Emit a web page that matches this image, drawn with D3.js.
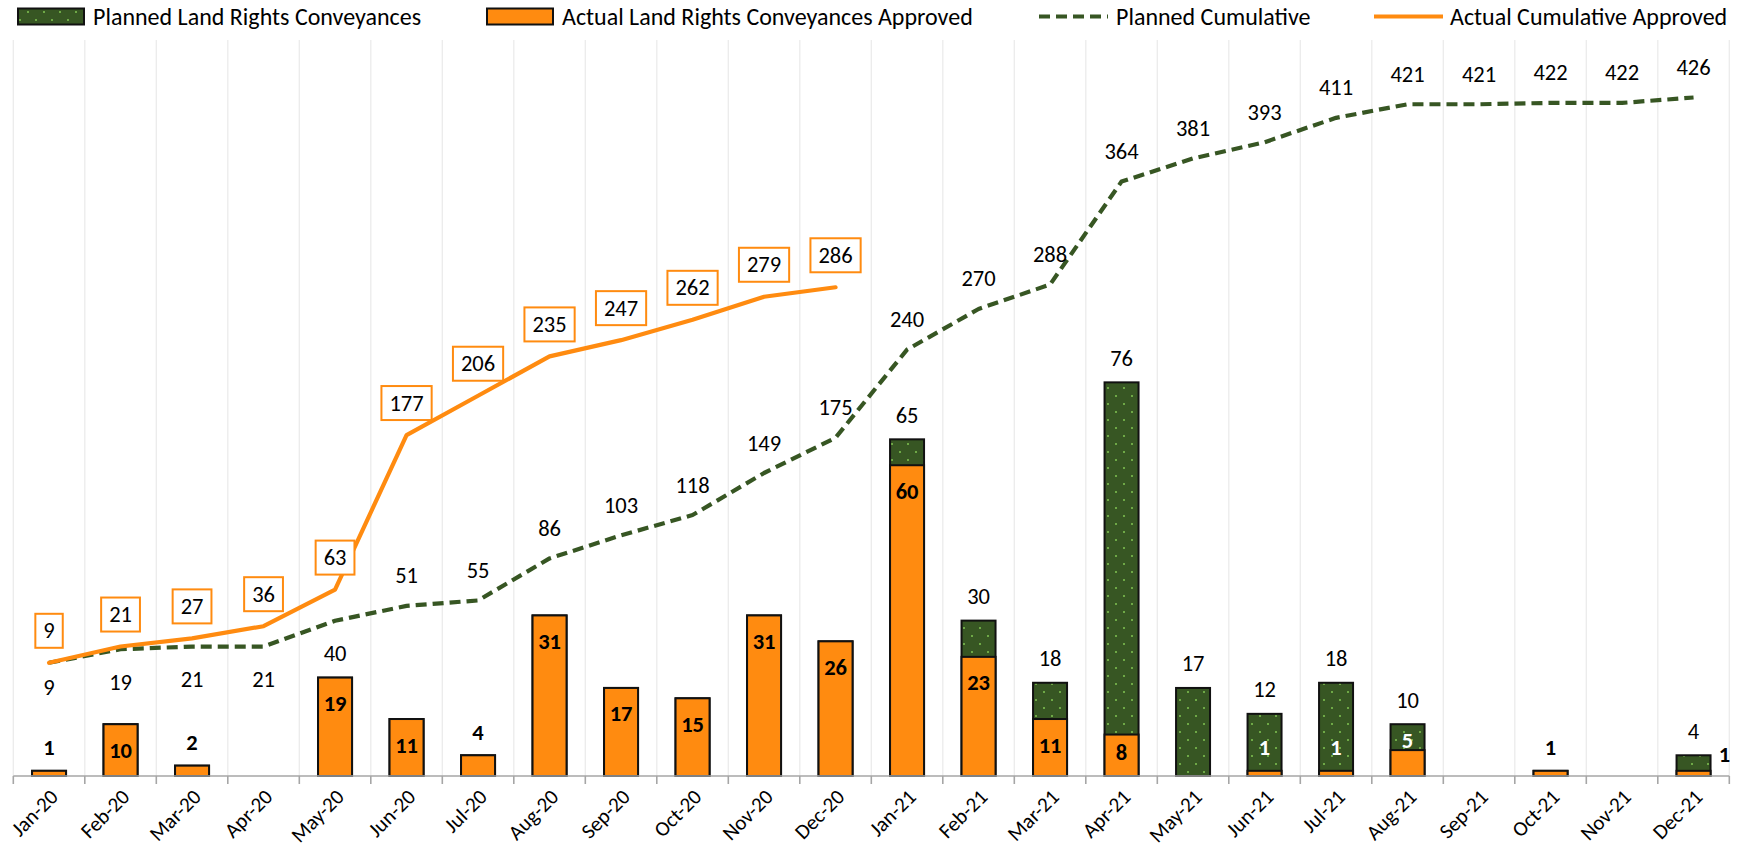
<!DOCTYPE html>
<html>
<head>
<meta charset="utf-8">
<script src="https://cdn.jsdelivr.net/npm/d3@7"></script>
<style>
  html, body { margin: 0; padding: 0; background: #ffffff; }
  svg { display: block; font-family: Carlito, Lato, "Open Sans", sans-serif; }
</style>
</head>
<body>
<svg id="chart" width="1738" height="851"></svg>
<script>
// ---------------- DATA ----------------
const categories = ["Jan-20","Feb-20","Mar-20","Apr-20","May-20","Jun-20","Jul-20","Aug-20","Sep-20","Oct-20","Nov-20","Dec-20",
                    "Jan-21","Feb-21","Mar-21","Apr-21","May-21","Jun-21","Jul-21","Aug-21","Sep-21","Oct-21","Nov-21","Dec-21"];
const plannedMonthly = [1,10,2,0,19,11,4,31,17,15,31,26, 65,30,18,76,17,12,18,10,0,1,0,4];
const actualMonthly  = [1,10,2,0,19,11,4,31,17,15,31,26, 60,23,11,8,0,1,1,5,0,1,0,1];
const plannedCumulative = [9,19,21,21,40,51,55,86,103,118,149,175, 240,270,288,364,381,393,411,421,421,422,422,426];
const actualCumulative  = [9,21,27,36,63,177,206,235,247,262,279,286];
// which planned-bar labels are shown (2021 months where plan exceeds actual)
const plannedLabelShown = [0,0,0,0,0,0,0,0,0,0,0,0, 1,1,1,1,1,1,1,1,0,0,0,1];
const legendLabels = ["Planned Land Rights Conveyances","Actual Land Rights Conveyances Approved","Planned Cumulative","Actual Cumulative Approved"];

// ---------------- LABEL PLACEMENT (style) ----------------
// actual bar label offset from bar top (label centre), null = no label
const actualLabelDy = [-23,26,-23,null,26,26,-23,26,26,26,26,26, 26,26,26,18,null,-23,-23,-10,null,-23,null,-16];
const actualLabelDx = [0,0,0,0,0,0,0,0,0,0,0,0, 0,0,0,0,0,0,0,0,0,0,0,31];
// planned cumulative label offset from line point
const plannedCumLabelDy = [25,33,33,33,33,-30,-30,-30,-30,-30,-30,-30, -30,-30,-30,-30,-30,-30,-30,-30,-30,-30,-30,-30];

// ---------------- STYLE ----------------
const GREEN = "#375623", DOT = "#6EA846", ORANGE = "#FF8B10";
const plot = { left: 13.3, right: 1729.3, top: 40, bottom: 776 };
const FS = 22.5;

const svg = d3.select("#chart");
const defs = svg.append("defs");
const pat = defs.append("pattern").attr("id","dots").attr("patternUnits","userSpaceOnUse")
  .attr("width",16).attr("height",16);
pat.append("rect").attr("width",16).attr("height",16).attr("fill",GREEN);
pat.append("rect").attr("x",3).attr("y",3).attr("width",2).attr("height",2).attr("fill",DOT);
pat.append("rect").attr("x",11).attr("y",11).attr("width",2).attr("height",2).attr("fill",DOT);

const x = d3.scaleBand().domain(categories).range([plot.left, plot.right]).paddingInner(0).paddingOuter(0);
const bw = x.bandwidth();
const cx = c => x(c) + bw / 2;
const yBar = d3.scaleLinear().domain([0, 142.1]).range([plot.bottom, plot.top]);
const yLine = d3.scaleLinear().domain([-74.5, 468.4]).range([plot.bottom, plot.top]);
const barW = 34;

// gridlines (vertical, category boundaries)
const bounds = categories.map(c => x(c)).concat([x.range()[1]]);
svg.append("g").selectAll("line").data(bounds).join("line")
  .attr("x1", d => d).attr("x2", d => d)
  .attr("y1", plot.top).attr("y2", plot.bottom)
  .attr("stroke", "#EBEBEB").attr("stroke-width", 1.3);

// bars
const bars = svg.append("g");
bars.selectAll("rect.planned").data(categories.map((c,i)=>({c, v: plannedMonthly[i]})).filter(d=>d.v>0))
  .join("rect").attr("class","planned")
  .attr("x", d => cx(d.c) - barW/2).attr("width", barW)
  .attr("y", d => yBar(d.v)).attr("height", d => yBar(0) - yBar(d.v))
  .attr("fill", "url(#dots)").attr("stroke", "#111").attr("stroke-width", 2);
bars.selectAll("rect.actual").data(categories.map((c,i)=>({c, v: actualMonthly[i]})).filter(d=>d.v>0))
  .join("rect").attr("class","actual")
  .attr("x", d => cx(d.c) - barW/2).attr("width", barW)
  .attr("y", d => yBar(d.v)).attr("height", d => yBar(0) - yBar(d.v))
  .attr("fill", ORANGE).attr("stroke", "#111").attr("stroke-width", 2);

// x axis
const axisG = svg.append("g");
axisG.append("line").attr("x1", plot.left).attr("x2", plot.right)
  .attr("y1", plot.bottom).attr("y2", plot.bottom)
  .attr("stroke", "#A6A6A6").attr("stroke-width", 1.6);
axisG.selectAll("line.tick").data(bounds).join("line").attr("class","tick")
  .attr("x1", d => d).attr("x2", d => d)
  .attr("y1", plot.bottom).attr("y2", plot.bottom + 8)
  .attr("stroke", "#A6A6A6").attr("stroke-width", 1.6);
axisG.selectAll("text").data(categories).join("text")
  .attr("transform", c => `translate(${cx(c) + 5},${plot.bottom + 17}) rotate(-45)`)
  .attr("text-anchor", "end").attr("dy", "0.35em")
  .attr("font-size", 21).attr("fill", "#000")
  .text(c => c);

// lines
const lineGen = d3.line().x(d => cx(d.c)).y(d => yLine(d.v));
const plannedPts = categories.map((c,i)=>({c, v: plannedCumulative[i]}));
const actualPts = actualCumulative.map((v,i)=>({c: categories[i], v}));
svg.append("path").datum(plannedPts).attr("d", lineGen)
  .attr("fill","none").attr("stroke", GREEN).attr("stroke-width", 4.2)
  .attr("stroke-dasharray", "11,6").attr("stroke-linejoin","round");
svg.append("path").datum(actualPts).attr("d", lineGen)
  .attr("fill","none").attr("stroke", ORANGE).attr("stroke-width", 4.2)
  .attr("stroke-linejoin","round").attr("stroke-linecap","round");

// planned cumulative labels
svg.append("g").selectAll("text").data(plannedPts).join("text")
  .attr("x", d => cx(d.c)).attr("y", (d,i) => yLine(d.v) + plannedCumLabelDy[i])
  .attr("text-anchor","middle").attr("dominant-baseline","central")
  .attr("font-size", FS).attr("fill","#000").text(d => d.v);

// actual cumulative boxed labels
const boxG = svg.append("g").selectAll("g").data(actualPts).join("g")
  .attr("transform", d => `translate(${cx(d.c)},${yLine(d.v) - 32})`);
boxG.append("rect").attr("fill","#fff").attr("stroke", ORANGE).attr("stroke-width", 2);
boxG.append("text").attr("text-anchor","middle").attr("dominant-baseline","central")
  .attr("font-size", FS).attr("fill","#000").text(d => d.v);
boxG.each(function() {
  const g = d3.select(this);
  const w = g.select("text").node().getComputedTextLength() + 16;
  g.select("rect").attr("x", -w/2).attr("y", -17).attr("width", w).attr("height", 34);
});

// planned bar labels
svg.append("g").selectAll("text")
  .data(categories.map((c,i)=>({c, v: plannedMonthly[i], show: plannedLabelShown[i]})).filter(d=>d.show))
  .join("text")
  .attr("x", d => cx(d.c)).attr("y", d => yBar(d.v) - 24)
  .attr("text-anchor","middle").attr("dominant-baseline","central")
  .attr("font-size", FS).attr("fill","#000").text(d => d.v);

// actual bar labels
svg.append("g").selectAll("text")
  .data(categories.map((c,i)=>({c, i, v: actualMonthly[i]})).filter(d=>actualLabelDy[d.i] !== null))
  .join("text")
  .attr("x", d => cx(d.c) + actualLabelDx[d.i]).attr("y", d => yBar(d.v) + actualLabelDy[d.i])
  .attr("text-anchor","middle").attr("dominant-baseline","central")
  .attr("font-size", FS).attr("font-weight", 700)
  .attr("fill", d => (actualLabelDx[d.i] === 0 && actualLabelDy[d.i] < 0 && plannedMonthly[d.i] > d.v) ? "#fff" : "#000")
  .text(d => d.v);

// legend
const lg = svg.append("g");
const ly = 16.5;
lg.append("rect").attr("x",18).attr("y",ly-8).attr("width",66).attr("height",16)
  .attr("fill","url(#dots)").attr("stroke","#111").attr("stroke-width",2);
lg.append("rect").attr("x",487).attr("y",ly-8).attr("width",66).attr("height",16)
  .attr("fill",ORANGE).attr("stroke","#111").attr("stroke-width",2);
lg.append("line").attr("x1",1039).attr("x2",1108).attr("y1",ly).attr("y2",ly)
  .attr("stroke",GREEN).attr("stroke-width",4.2).attr("stroke-dasharray","11,6");
lg.append("line").attr("x1",1374).attr("x2",1443).attr("y1",ly).attr("y2",ly)
  .attr("stroke",ORANGE).attr("stroke-width",4.2);
const legendX = [93, 562, 1116, 1450];
lg.selectAll("text").data(legendLabels).join("text")
  .attr("x", (d,i) => legendX[i]).attr("y", ly)
  .attr("dominant-baseline","central").attr("font-size", 24).attr("fill","#000")
  .text(d => d);
</script>
</body>
</html>
